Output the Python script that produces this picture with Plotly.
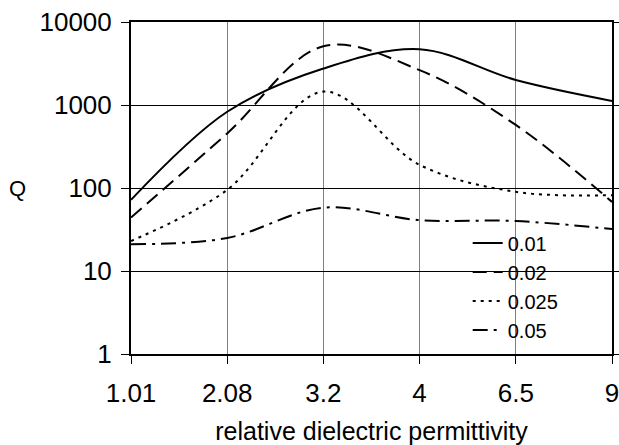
import plotly.graph_objects as go

categories = ["1.01", "2.08", "3.2", "4", "6.5", "9"]
q_001 = [72, 830, 2750, 4700, 2000, 1120]
q_002 = [44, 455, 5100, 2630, 575, 68]
q_0025 = [23, 95, 1450, 190, 90, 82]
q_005 = [21, 25, 58, 41, 40, 32]
series_names = ["0.01", "0.02", "0.025", "0.05"]
y_ticks = [1, 10, 100, 1000, 10000]
y_tick_labels = ["1", "10", "100", "1000", "10000"]

FONT = "Liberation Sans, Arial, sans-serif"
dashes = ["solid", "14px,7px", "3px,5px", "15px,6px,3px,6px"]
all_series = [q_001, q_002, q_0025, q_005]

fig = go.Figure()
for name, vals, dash in zip(series_names, all_series, dashes):
    fig.add_trace(go.Scatter(
        x=categories, y=vals, name=name, mode="lines",
        line=dict(color="black", width=2, dash=dash, shape="spline", smoothing=1),
    ))

fig.update_layout(
    width=619, height=445,
    margin=dict(l=131, r=7, t=22, b=91, autoexpand=False),
    paper_bgcolor="white", plot_bgcolor="white",
    font=dict(family=FONT, color="black", size=26),
    showlegend=True,
    legend=dict(
        x=0.70, y=0.393, xanchor="left", yanchor="top",
        bgcolor="rgba(0,0,0,0)", borderwidth=0,
        font=dict(size=20, family=FONT),
        tracegroupgap=0, itemwidth=30,
    ),
    xaxis=dict(
        type="category", range=[0, 5],
        showgrid=True, gridcolor="#808080", gridwidth=1,
        showline=True, linecolor="black", linewidth=2, mirror=True,
        ticks="outside", ticklen=8, tickcolor="black", tickwidth=1,
        ticklabelstandoff=7, ticklabeloverflow="allow",
        tickfont=dict(size=26),
        title=dict(text="relative dielectric permittivity", font=dict(size=25), standoff=21),
    ),
    yaxis=dict(
        type="log", range=[0, 4],
        tickvals=y_ticks, ticktext=y_tick_labels,
        showgrid=True, gridcolor="black", gridwidth=1,
        showline=True, linecolor="black", linewidth=2, mirror="ticks",
        ticks="outside", ticklen=8, tickcolor="black", tickwidth=1,
        ticklabelstandoff=4, ticklabeloverflow="allow",
        tickfont=dict(size=26),
    ),
    shapes=[dict(
        type="rect", xref="paper", yref="paper",
        x0=0.497, x1=1.0, y0=0.03, y1=0.37,
        fillcolor="white", line=dict(width=0), layer="between",
    )],
    annotations=[dict(
        text="Q", xref="paper", yref="paper", x=-0.235, y=0.497,
        showarrow=False, font=dict(size=22, family=FONT),
        xanchor="center", yanchor="middle",
    )],
)

# Remove the browser's default body margin so the figure fills the window.
fig.write_html(
    "out.html",
    config={"displayModeBar": False},
    post_script="document.body.style.margin='0';document.body.style.overflow='hidden';",
)
